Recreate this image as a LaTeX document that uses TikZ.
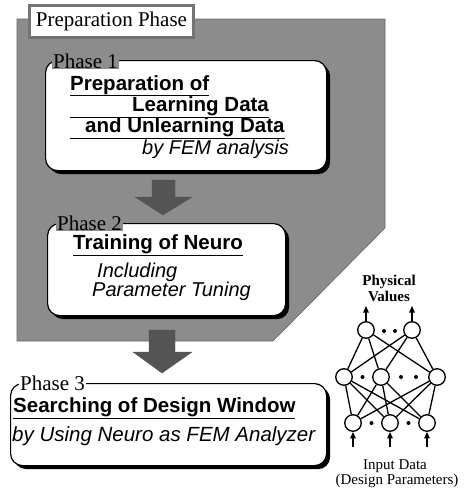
\documentclass[tikz,border=0pt]{standalone}
\usepackage{fontspec}
\setmainfont{Liberation Serif}
\setsansfont{Liberation Sans}
\usetikzlibrary{shadows,arrows.meta}
\definecolor{hatch}{gray}{0.55}
\definecolor{darkhatch}{gray}{0.33}
\begin{document}
\begin{tikzpicture}[x=1pt,y=-1pt,
  phasebox/.style={draw=black,line width=1.2pt,fill=white,rounded corners=12pt,
    drop shadow={shadow xshift=3.5pt,shadow yshift=-3.5pt,fill=black,opacity=1}},
  phaselabel/.style={font=\fontsize{21}{21}\selectfont,inner sep=1pt,anchor=west},
  titletext/.style={font=\sffamily\bfseries\fontsize{20.5}{21}\selectfont,inner sep=0pt,anchor=base west},
  subtext/.style={font=\sffamily\itshape\fontsize{20}{21}\selectfont,inner sep=0pt,anchor=base west},
  bigarrow/.style={fill=darkhatch,draw=darkhatch},
  neuron/.style={circle,draw=black,line width=1.3pt,fill=white,minimum size=16.5pt,inner sep=0pt},
  syn/.style={line width=1.3pt},
  dotc/.style={circle,fill=black,inner sep=0pt,minimum size=4pt},
  io/.style={line width=1.3pt,-{Triangle[length=6.5pt,width=5.5pt]}},
  netlabel/.style={font=\fontsize{15}{15}\selectfont,inner sep=0pt,anchor=base}]
\useasboundingbox (0,0) rectangle (469,490);
% preparation region
\fill[hatch] (17,19) -- (385,19) -- (385,228) -- (273,341) -- (17,341) -- cycle;
\draw[black!60,line width=0.6pt] (17,19) -- (385,19) -- (385,228) -- (273,341) -- (17,341) -- cycle;
\node[draw=black!55,line width=3pt,fill=white,anchor=north west,minimum width=164pt,minimum height=32pt,
  font=\fontsize{21}{21}\selectfont] (prep) at (28,4) {Preparation Phase};
% phase 1
\node[phasebox,anchor=north west,minimum width=281pt,minimum height=110pt] (p1) at (45,60) {};
\node[phaselabel,fill=hatch] (l1) at (52,61) {Phase 1};
\node[titletext] (t1a) at (70,90) {\underline{Preparation of}};
\node[titletext] (t1b) at (70,111) {\underline{\hspace*{62pt}Learning Data}};
\node[titletext] (t1c) at (70,132) {\underline{\hspace*{15pt}and Unlearning Data}};
\node[subtext] (s1) at (142,154) {by FEM analysis};
% arrow 1
\fill[bigarrow] (152,180) -- (175,180) -- (175,197) -- (192,197) -- (163,215) -- (135,197) -- (152,197) -- cycle;
% phase 2
\node[phasebox,anchor=north west,minimum width=238pt,minimum height=92pt] (p2) at (47,223) {};
\node[phaselabel,fill=hatch] (l2) at (56,223) {Phase 2};
\node[titletext] (t2) at (73,249) {\underline{Training of Neuro}};
\node[subtext] (s2a) at (97,277) {Including};
\node[subtext] (s2b) at (92,296) {Parameter Tuning};
% arrow 2
\fill[bigarrow] (149,330) -- (175,330) -- (175,352) -- (192,352) -- (162,373) -- (133,352) -- (149,352) -- cycle;
% phase 3
\node[phasebox,anchor=north west,minimum width=316pt,minimum height=82pt] (p3) at (10,383) {};
\node[phaselabel,fill=white] (l3) at (19,383) {Phase 3};
\node[titletext] (t3) at (13,412) {\underline{Searching of Design Window}};
\node[subtext,font=\sffamily\itshape\fontsize{20.5}{21}\selectfont] (s3) at (12,441) {by Using Neuro as FEM Analyzer};
% neural network
\node[neuron] (o1) at (366,330) {};
\node[neuron] (o2) at (412,330) {};
\node[neuron] (h1) at (344,377) {};
\node[neuron] (h2) at (381,377) {};
\node[neuron] (h3) at (437,377) {};
\node[neuron] (i1) at (353,423) {};
\node[neuron] (i2) at (390,423) {};
\node[neuron] (i3) at (427,423) {};
\foreach \a in {o1,o2}{\foreach \b in {h1,h2,h3}{\draw[syn] (\a) -- (\b);}}
\foreach \a in {h1,h2,h3}{\foreach \b in {i1,i2,i3}{\draw[syn] (\a) -- (\b);}}
\node[dotc] (d1) at (384,331) {};
\node[dotc] (d2) at (395,331) {};
\node[dotc] (d3) at (362.5,377) {};
\node[dotc] (d4) at (401,377) {};
\node[dotc] (d5) at (416,377) {};
\node[dotc] (d6) at (371.5,423) {};
\node[dotc] (d7) at (408.5,423) {};
\coordinate (ao1) at (366,306);
\coordinate (ao2) at (412,306);
\coordinate (ai1) at (353,447);
\coordinate (ai2) at (390,447);
\coordinate (ai3) at (427,447);
\draw[io] (o1) -- (ao1);
\draw[io] (o2) -- (ao2);
\draw[io] (ai1) -- (i1);
\draw[io] (ai2) -- (i2);
\draw[io] (ai3) -- (i3);
\node[netlabel,font=\bfseries\fontsize{15}{15}\selectfont] (pv1) at (389,285) {Physical};
\node[netlabel,font=\bfseries\fontsize{15}{15}\selectfont] (pv2) at (389,301) {Values};
\node[netlabel] (in1) at (395,469) {Input Data};
\node[netlabel] (in2) at (397,484) {(Design Parameters)};
\end{tikzpicture}
\end{document}
